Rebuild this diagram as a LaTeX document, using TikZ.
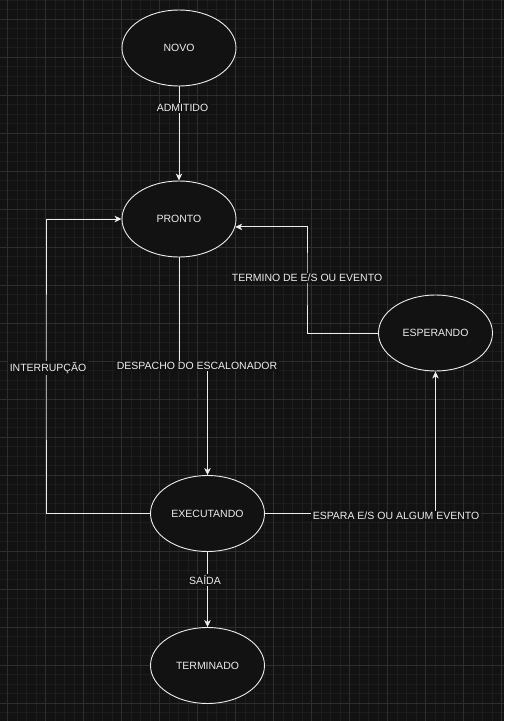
\documentclass[tikz,border=0pt]{standalone}
\usepackage{fontspec}
\setmainfont{Liberation Sans}
\usetikzlibrary{shapes.geometric}
\usetikzlibrary{arrows.meta}
\definecolor{canvas}{HTML}{121212}
\definecolor{minorline}{HTML}{1D1D1D}
\definecolor{majorline}{HTML}{2E2E2E}
\definecolor{ink}{HTML}{EDEDED}
\tikzstyle{state}=[ellipse, draw=ink, fill=canvas, line width=0.9pt, minimum width=114pt, minimum height=76pt, inner sep=0pt, text=ink, font=\fontsize{10.5}{12}\selectfont]
\tikzstyle{transition}=[draw=ink, line width=0.9pt, -{Stealth[length=7pt,width=6.5pt,inset=2pt]}]
\tikzstyle{edgetext}=[fill=canvas, text=ink, inner sep=1.5pt, font=\fontsize{10.5}{12}\selectfont]

\begin{document}
\begin{tikzpicture}[x=1pt, y=-1pt]
          \fill[canvas] (0,0) rectangle (504,721);
          \useasboundingbox (0,0) rectangle (504,721);
          % grid
          \foreach \gx in {-1.8,7.7,...,505}
            \draw[minorline, line width=0.6pt] (\gx,0) -- (\gx,721);
          \foreach \gy in {0,9.5,...,722}
            \draw[minorline, line width=0.6pt] (0,\gy) -- (504,\gy);
          \foreach \gx in {7.7,45.7,...,505}
            \draw[majorline, line width=0.7pt] (\gx,0) -- (\gx,721);
          \foreach \gy in {19,57,...,722}
            \draw[majorline, line width=0.7pt] (0,\gy) -- (504,\gy);
          % states
          \node[state] (novo) at (179,48) {NOVO};
          \node[state] (pronto) at (179,219) {PRONTO};
          \node[state] (esperando) at (435.5,333) {ESPERANDO};
          \node[state] (executando) at (207.5,513.5) {EXECUTANDO};
          \node[state] (terminado) at (207.5,665.5) {TERMINADO};
          % bends
          \coordinate (despacho) at (197,366);
          \coordinate (termino) at (307,278);
          \coordinate (interrupcao) at (46,368);
          % transitions
          \draw[transition] (novo) -- (pronto);
          \draw[transition] (pronto.south) |- (despacho) -| (executando.north);
          \draw[transition] (esperando.west) -| (termino) |- (pronto.-8);
          \draw[transition] (executando.west) -| (interrupcao) |- (pronto.west);
          \draw[transition] (executando.east) -| (esperando.south);
          \draw[transition] (executando) -- (terminado);
          % labels
          \node[edgetext] (admitidotext) at (182.5,108) {ADMITIDO};
          \node[edgetext] (despachotext) at (despacho) {DESPACHO DO ESCALONADOR};
          \node[edgetext] (terminotext) at (termino) {TERMINO DE E/S OU EVENTO};
          \node[edgetext] (interrupcaotext) at (48,368) {INTERRUPÇÃO};
          \node[edgetext] (esparatext) at (396,516) {ESPARA E/S OU ALGUM EVENTO};
          \node[edgetext] (saidatext) at (205,580) {SAÍDA};
        \end{tikzpicture}
\end{document}
